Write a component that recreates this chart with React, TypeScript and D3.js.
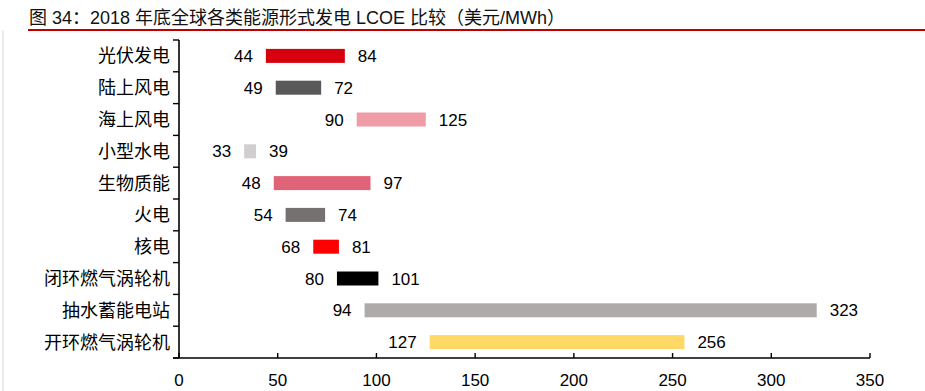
import React from "react";
import * as d3 from "d3";

const categories = ["光伏发电", "陆上风电", "海上风电", "小型水电", "生物质能", "火电", "核电", "闭环燃气涡轮机", "抽水蓄能电站", "开环燃气涡轮机"];
const minValues = [44, 49, 90, 33, 48, 54, 68, 80, 94, 127];
const maxValues = [84, 72, 125, 39, 97, 74, 81, 101, 323, 256];
const barColors = ["#d7000f", "#595959", "#f09ca6", "#d0cece", "#e06377", "#767171", "#ff0000", "#000000", "#aeaaaa", "#ffd966"];
const xTicks = [0, 50, 100, 150, 200, 250, 300, 350];
const title = "图 34：2018 年底全球各类能源形式发电 LCOE 比较（美元/MWh）";

const W = 925;
const H = 391;
const FONT = "'Liberation Sans', Arial, 'Noto Sans CJK SC', sans-serif";

export default function App() {
  const x = d3.scaleLinear().domain([0, 350]).range([179, 870]);
  const y = d3.scaleBand<string>().domain(categories).range([40, 358]).paddingInner(0.56).paddingOuter(0.28);
  const step = y.step();
  const y0 = 40;
  const yEnd = 358;
  const boundaries = d3.range(categories.length + 1).map((i) => y0 + i * step);

  return (
    <svg width={W} height={H} style={{ position: "absolute", left: 0, top: 0, background: "#fff" }}>
      <rect x={0} y={0} width={W} height={H} fill="#fff" />
      <line x1={3} x2={3} y1={30} y2={H} stroke="#d9d9d9" strokeWidth={1} />
      <text x={29} y={24} fontSize={18} fontFamily={FONT} fill="#111">{title}</text>
      <line x1={28} x2={W} y1={30} y2={30} stroke="#c00000" strokeWidth={1.8} />

      {categories.map((c, i) => {
        const yc = (y(c) as number) + y.bandwidth() / 2;
        return (
          <g key={c}>
            <rect x={x(minValues[i])} y={y(c)} width={x(maxValues[i]) - x(minValues[i])} height={y.bandwidth()} fill={barColors[i]} />
            <text x={x(minValues[i]) - 13} y={yc} dy="0.36em" textAnchor="end" fontSize={17} fontFamily={FONT} fill="#000">{minValues[i]}</text>
            <text x={x(maxValues[i]) + 13} y={yc} dy="0.36em" textAnchor="start" fontSize={17} fontFamily={FONT} fill="#000">{maxValues[i]}</text>
            <text x={170} y={yc} dy="0.36em" textAnchor="end" fontSize={18} fontFamily={FONT} fill="#000">{c}</text>
          </g>
        );
      })}

      <line x1={179} x2={179} y1={y0} y2={yEnd} stroke="#000" strokeWidth={1.6} />
      {boundaries.map((b, i) => (
        <line key={i} x1={173} x2={179} y1={b} y2={b} stroke="#000" strokeWidth={1.4} />
      ))}
      <line x1={173} x2={x(350)} y1={yEnd} y2={yEnd} stroke="#000" strokeWidth={1.6} />
      {xTicks.map((t) => (
        <g key={t}>
          <line x1={x(t)} x2={x(t)} y1={yEnd} y2={yEnd - 5} stroke="#000" strokeWidth={1.4} />
          <text x={x(t)} y={386} textAnchor="middle" fontSize={17} fontFamily={FONT} fill="#000">{t}</text>
        </g>
      ))}
    </svg>
  );
}
